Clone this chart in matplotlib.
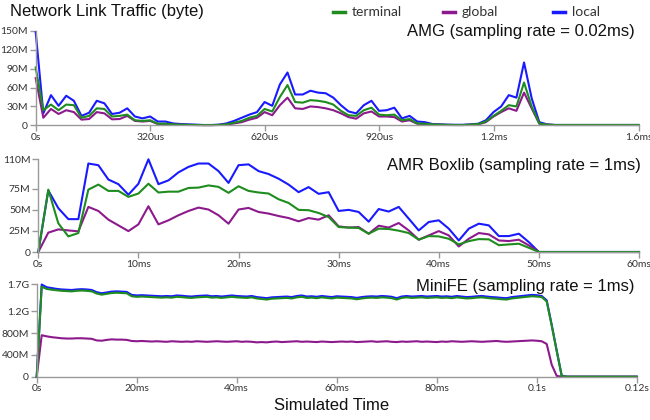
import matplotlib
matplotlib.use("Agg")

import matplotlib.pyplot as plt
from matplotlib.lines import Line2D
import numpy as np

# ---- AMG (sampling rate 0.02ms), values in MB ----
amg_time = np.arange(80) * 20  # us
amg_local = [148, 19, 48, 31, 47, 39, 15, 20, 39, 35, 18, 20, 27, 14, 11, 14, 6, 6, 3, 2,
             1.5, 1, 0.5, 0.5, 1, 3, 7, 12, 17, 21, 37, 31, 65, 84, 49, 49, 55, 52, 51, 44,
             32, 22, 19, 32, 39, 23, 24, 28, 11, 15, 6, 5, 2, 1.5, 1, 0.8, 0.8, 1.5, 2.5, 8,
             21, 30, 48, 44, 100, 43, 5, 1.5, 0.5, 0.5, 0.5, 0.5, 0.5, 0.5, 0.5, 0.5, 0.5, 0.5, 0.5, 0.5]
amg_terminal = [92, 24, 33, 24, 33, 32, 12, 15, 27, 26, 14, 15, 17, 8, 7, 8, 2.5, 2.5, 1.5, 1,
                0.7, 0.5, 0.3, 0.3, 0.6, 1.5, 4, 7, 12, 15, 26, 22, 45, 64, 37, 36, 40, 39, 37, 33,
                23, 16, 15, 24, 28, 17, 16, 17, 8, 10, 3, 2.5, 1.5, 1, 0.6, 0.5, 0.5, 1, 2, 6,
                15, 23, 32, 30, 68, 30, 3, 1, 0.5, 0.5, 0.5, 0.5, 0.5, 0.5, 0.5, 0.5, 0.5, 0.5, 0.5, 0.5]
amg_global = [75, 12, 26, 18, 24, 21, 9, 10, 21, 19, 9.5, 10, 15, 7, 6, 7, 2, 2, 1, 0.8,
              0.5, 0.4, 0.3, 0.3, 0.5, 1.2, 3, 5, 9, 12, 21, 16, 32, 44, 27, 26, 30, 29, 27, 24,
              19, 13, 10.5, 19, 22, 14, 14, 13, 6, 8, 2.5, 2, 1, 0.8, 0.5, 0.4, 0.4, 0.8, 1.5, 5,
              14, 21, 27, 23, 52, 27, 2.5, 1, 0.5, 0.5, 0.5, 0.5, 0.5, 0.5, 0.5, 0.5, 0.5, 0.5, 0.5, 0.5]
amg_xticks = [0, 300, 600, 900, 1200, 1580]
amg_xlabels = ["0s", "320us", "620us", "920us", "1.2ms", "1.6ms"]
amg_yticks = [0, 30, 60, 90, 120, 150]
amg_ylabels = ["0", "30M", "60M", "90M", "120M", "150M"]

# ---- AMR Boxlib (sampling rate 1ms), values in MB ----
amr_time = np.arange(61)  # ms
amr_local = [0, 73, 52, 39, 39, 105, 103, 86, 80.5, 68, 81, 110, 80.5, 85, 94.5, 101, 105, 105, 96, 82,
             103, 104, 96, 92.5, 87, 80, 71, 77, 69, 71, 48.7, 50, 47.5, 36, 51, 48, 53.5, 39.6, 25.6, 35.6,
             37.6, 27.7, 13.7, 27.7, 33.6, 31.6, 18.9, 18.9, 21.7, 11.7, 0, 0, 0, 0, 0, 0, 0, 0, 0, 0, 0]
amr_terminal = [0, 74, 34, 18.5, 22.5, 74, 80, 72.5, 72.5, 65.4, 69.4, 81, 70.6, 71.6, 71.6, 76, 76.4, 79, 77.3, 70.2,
                78, 72.5, 70.6, 69.4, 62.6, 58.2, 50, 49.6, 46.3, 41.5, 29.6, 29, 28.5, 21.7, 27.7, 27.3, 25.3, 22.5, 14.6, 18.9,
                18.5, 15.7, 9, 12.9, 15.3, 15, 8.1, 9, 9.8, 5, 0, 0, 0, 0, 0, 0, 0, 0, 0, 0, 0]
amr_global = [0, 23, 26.8, 25.6, 24.5, 53.5, 48.7, 38.4, 31.6, 24.8, 32.8, 54.3, 32.8, 37.6, 43.6, 48.7, 52.7, 50.4, 43.6, 33.6,
              50.4, 52.3, 47.5, 45.6, 42.7, 40.3, 36.4, 40.3, 38.4, 43.6, 30.4, 29, 29.6, 21.7, 31.2, 29, 34.4, 25.6, 14.6, 19.7,
              24.8, 19.7, 6.6, 15.7, 22.5, 20.9, 13.7, 13, 14.6, 7.8, 0, 0, 0, 0, 0, 0, 0, 0, 0, 0, 0]
amr_xticks = [0, 10, 20, 30, 40, 50, 60]
amr_xlabels = ["0s", "10ms", "20ms", "30ms", "40ms", "50ms", "60ms"]
amr_yticks = [0, 25, 50, 75, 110]
amr_ylabels = ["0", "25M", "50M", "75M", "110M"]

# ---- MiniFE (sampling rate 1ms), values in MB ----
fe_time = np.arange(121)  # ms
fe_local = [0, 1690, 1640, 1625, 1610, 1600, 1595, 1590, 1600, 1605, 1600, 1590, 1550, 1530, 1545, 1560, 1565, 1560, 1555, 1500,
            1490, 1495, 1490, 1485, 1480, 1475, 1480, 1475, 1490, 1485, 1475, 1470, 1480, 1485, 1490, 1475, 1480, 1470, 1480, 1490,
            1480, 1475, 1470, 1480, 1460, 1450, 1440, 1455, 1460, 1465, 1470, 1460, 1480, 1490, 1470, 1475, 1465, 1480, 1470, 1460,
            1475, 1470, 1465, 1460, 1445, 1460, 1470, 1475, 1470, 1480, 1475, 1465, 1440, 1470, 1480, 1470, 1475, 1480, 1470, 1475,
            1480, 1470, 1475, 1465, 1480, 1470, 1460, 1465, 1475, 1480, 1470, 1460, 1455, 1445, 1440, 1460, 1470, 1480, 1490, 1500,
            1495, 1480, 1400, 950, 480, 20, 0, 0, 0, 0, 0, 0, 0, 0, 0, 0, 0, 0, 0, 0, 0]
fe_terminal = [0, 1650, 1610, 1595, 1585, 1575, 1570, 1565, 1575, 1580, 1575, 1565, 1525, 1505, 1520, 1535, 1540, 1535, 1530, 1475,
               1465, 1470, 1465, 1460, 1455, 1450, 1455, 1450, 1465, 1460, 1450, 1445, 1455, 1460, 1465, 1450, 1455, 1445, 1455, 1465,
               1455, 1450, 1445, 1455, 1435, 1425, 1415, 1430, 1435, 1440, 1445, 1435, 1455, 1465, 1445, 1450, 1440, 1455, 1445, 1435,
               1450, 1445, 1440, 1435, 1420, 1435, 1445, 1450, 1445, 1455, 1450, 1440, 1415, 1445, 1455, 1445, 1450, 1455, 1445, 1450,
               1455, 1445, 1450, 1440, 1455, 1445, 1435, 1440, 1450, 1455, 1445, 1435, 1430, 1420, 1415, 1435, 1445, 1455, 1465, 1475,
               1470, 1460, 1380, 940, 470, 15, 0, 0, 0, 0, 0, 0, 0, 0, 0, 0, 0, 0, 0, 0, 0]
fe_global = [0, 760, 740, 725, 715, 705, 700, 700, 705, 705, 700, 695, 665, 660, 675, 685, 680, 680, 675, 655,
             650, 655, 650, 645, 650, 645, 640, 650, 645, 640, 645, 640, 650, 645, 640, 645, 650, 645, 640, 645,
             650, 640, 645, 640, 630, 635, 630, 640, 645, 635, 640, 645, 650, 640, 645, 640, 635, 645, 640, 635,
             640, 645, 640, 645, 635, 640, 645, 650, 640, 645, 650, 640, 635, 645, 640, 645, 650, 640, 645, 640,
             635, 645, 640, 650, 645, 640, 645, 650, 645, 640, 645, 650, 655, 645, 640, 645, 650, 655, 660, 665,
             660, 650, 600, 220, 15, 0, 0, 0, 0, 0, 0, 0, 0, 0, 0, 0, 0, 0, 0, 0, 0]
fe_xticks = [0, 20, 40, 60, 80, 100, 120]
fe_xlabels = ["0s", "20ms", "40ms", "60ms", "80ms", "0.1s", "0.12s"]
fe_yticks = [0, 400, 800, 1200, 1700]
fe_ylabels = ["0", "400M", "800M", "1.2G", "1.7G"]

series_names = ["terminal", "global", "local"]
colors = {"terminal": "#1e8c1e", "global": "#8c1a8c", "local": "#1a1aff"}

W, H = 650, 420
fig = plt.figure(figsize=(W / 100, H / 100), dpi=100)


def px_axes(left, top, right, bottom):
    return fig.add_axes([left / W, 1 - bottom / H, (right - left) / W, (bottom - top) / H])


def draw_panel(ax, t, local, glob, term, xmax, ymax, xticks, xlabels, yticks, ylabels, title, title_x, title_y):
    ax.plot(t, local, color=colors["local"], lw=1.5, clip_on=False)
    ax.plot(t, glob, color=colors["global"], lw=1.5, clip_on=False)
    ax.plot(t, term, color=colors["terminal"], lw=1.5, clip_on=False)
    ax.set_xlim(0, xmax)
    ax.set_ylim(0, ymax)
    ax.set_xticks(xticks)
    ax.set_xticklabels(xlabels)
    ax.set_yticks(yticks)
    ax.set_yticklabels(ylabels)
    for s in ["top", "right"]:
        ax.spines[s].set_visible(False)
    for s in ["left", "bottom"]:
        ax.spines[s].set_color("#9a9a9a")
        ax.spines[s].set_linewidth(1.0)
    ax.tick_params(axis="both", direction="out", length=4, width=1, color="#9a9a9a",
                   labelsize=7.5, labelcolor="#333333", pad=1.5)
    for lab in ax.get_xticklabels() + ax.get_yticklabels():
        lab.set_fontfamily("Lato")
    ax.patch.set_alpha(0)
    fig.text(title_x / W, 1 - title_y / H, title, ha="right", va="baseline",
             fontsize=12, family="Liberation Sans", color="#111111")


ax1 = px_axes(35.7, 31, 638.5, 125.3)
draw_panel(ax1, amg_time, amg_local, amg_global, amg_terminal, 1580, 150,
           amg_xticks, amg_xlabels, amg_yticks, amg_ylabels,
           "AMG (sampling rate = 0.02ms)", 635, 36)

ax2 = px_axes(38.3, 159.3, 639, 252)
draw_panel(ax2, amr_time, amr_local, amr_global, amr_terminal, 60, 110,
           amr_xticks, amr_xlabels, amr_yticks, amr_ylabels,
           "AMR Boxlib (sampling rate = 1ms)", 641, 170)

ax3 = px_axes(36.7, 284, 636.7, 376.7)
draw_panel(ax3, fe_time, fe_local, fe_global, fe_terminal, 120, 1700,
           fe_xticks, fe_xlabels, fe_yticks, fe_ylabels,
           "MiniFE (sampling rate = 1ms)", 634, 290.7)

# figure title and x label
fig.text(10 / W, 1 - 16 / H, "Network Link Traffic (byte)", ha="left", va="baseline",
         fontsize=12, family="Liberation Sans", color="#111111")
fig.text(332 / W, 1 - 410 / H, "Simulated Time", ha="center", va="baseline",
         fontsize=12, family="Liberation Sans", color="#111111")

# legend across the top
legend_x = {"terminal": 333, "global": 443, "local": 553}
for name in series_names:
    x0 = legend_x[name]
    fig.add_artist(Line2D([x0 / W, (x0 + 12) / W], [1 - 12 / H, 1 - 12 / H],
                          color=colors[name], lw=2.5, transform=fig.transFigure))
    fig.text((x0 + 19) / W, 1 - 12 / H, name, ha="left", va="center",
             fontsize=10, family="Lato", color="#333333")

fig.savefig("out.png", dpi=100)
